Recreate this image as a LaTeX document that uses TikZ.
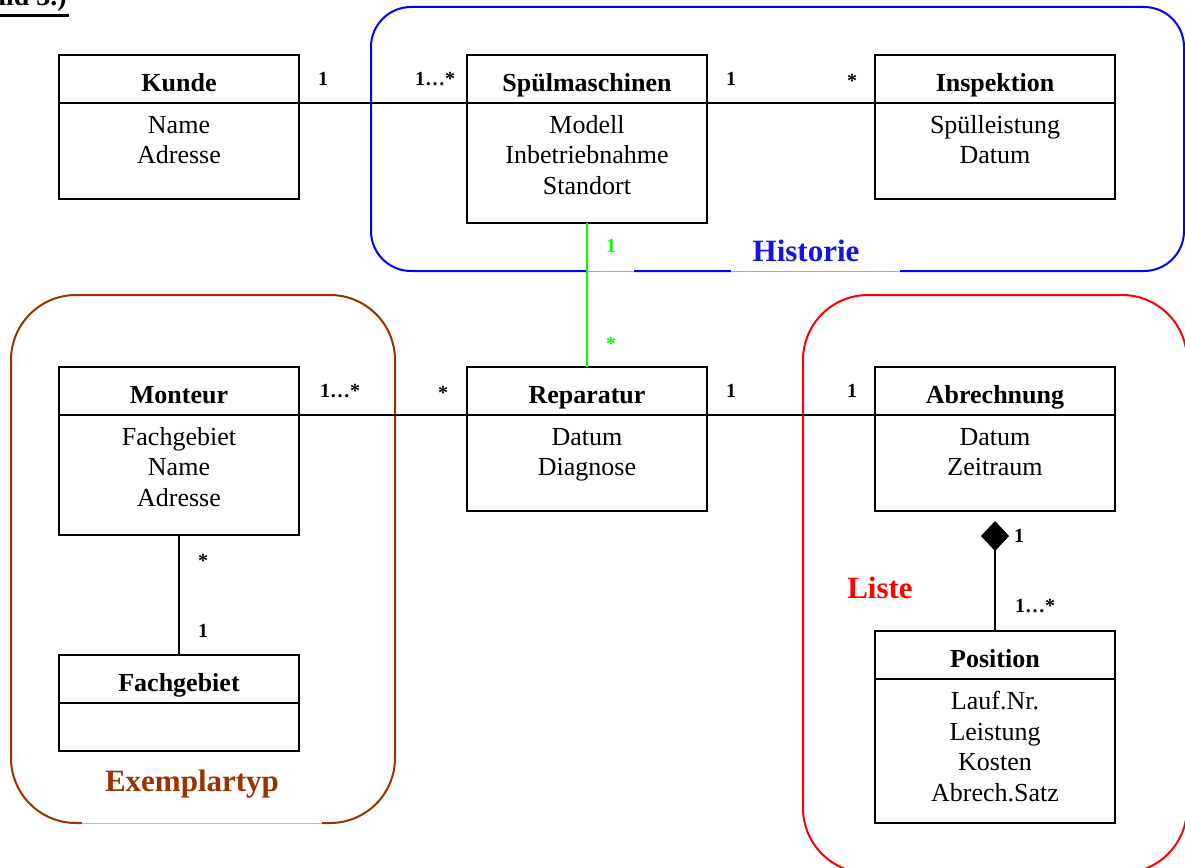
\documentclass[tikz,border=0pt]{standalone}
\usepackage{fontspec}
\setmainfont{Liberation Serif}
\usetikzlibrary{arrows.meta}
\definecolor{brn}{RGB}{153,51,0}
\definecolor{lbrn}{RGB}{225,180,155}
\definecolor{grn}{RGB}{0,255,0}
\definecolor{blu}{RGB}{0,0,255}
\definecolor{lblu}{RGB}{165,165,255}
\definecolor{ttl}{RGB}{20,20,230}
\newcommand\umlcls[6]{%
  \node[clsbox, minimum height=#4pt] (#1) at (#2,#3) {};
  \draw[line width=2pt] ([yshift=-47.5pt]#1.north west) -- ([yshift=-47.5pt]#1.north east);
  \node[clstitle] (#1-t) at ([yshift=-36pt]#1.north) {#5};
  \node[clsattr] (#1-a) at ([yshift=-60pt]#1.north) {#6};
}
\begin{document}
\begin{tikzpicture}[x=1pt,y=-1pt,
  clsbox/.style={draw, line width=2pt, minimum width=240pt, anchor=north west, inner sep=0pt, outer sep=0pt},
  clstitle/.style={font=\fontsize{26}{30}\selectfont\bfseries, anchor=base, inner sep=0pt},
  clsattr/.style={font=\fontsize{26}{30.5}\selectfont, align=center, anchor=north, inner sep=0pt},
  mult/.style={font=\fontsize{20}{24}\selectfont\bfseries, anchor=base, inner sep=0pt},
  assoc/.style={line width=2pt},
  grpframe/.style={line width=2pt, rounded corners=#1},
  grplabel/.style={font=\fontsize{31}{36}\selectfont\bfseries, anchor=base, inner sep=0pt}]
\useasboundingbox (0,0) rectangle (1185,867);
\clip (0,0) rectangle (1185,867);
\fill[white] (0,0) rectangle (1185,867);

% top-left cut-off heading
\node[font=\fontsize{28}{32}\selectfont\bfseries, anchor=base east, inner sep=0pt] (hdr) at (67,6) {Bild 3.)};
\fill (0,14) rectangle (69,17.5);

% group frames
\draw[blu, grpframe=40pt] (371,7) rectangle (1184,271);
\draw[white, line width=3.5pt] (588,271) -- (634,271) (731,271) -- (900,271);
\draw[lblu, line width=1pt] (588,271) -- (634,271) (731,271) -- (900,271);
\node[grplabel, text=ttl] (hist) at (806,261) {Historie};

\draw[brn, grpframe=65pt] (11,295) rectangle (395,823);
\draw[white, line width=3.5pt] (82,823) -- (322,823);
\draw[lbrn, line width=1pt] (82,823) -- (322,823);
\node[grplabel, text=brn] (exem) at (192,791) {Exemplartyp};

\draw[red, grpframe=65pt] (803,295) rectangle (1187,873);
\node[grplabel, text=red] (liste) at (880,598) {Liste};

% classes
\umlcls{kunde}{59}{55}{144}{Kunde}{\vphantom{l}Name\\Adresse}
\umlcls{spuel}{467}{55}{168}{Spülmaschinen}{\vphantom{l}Modell\\Inbetriebnahme\\Standort}
\umlcls{insp}{875}{55}{144}{Inspektion}{\vphantom{l}Spülleistung\\Datum}
\umlcls{mont}{59}{367}{168}{Monteur}{\vphantom{l}Fachgebiet\\Name\\Adresse}
\umlcls{rep}{467}{367}{144}{Reparatur}{\vphantom{l}Datum\\Diagnose}
\umlcls{abr}{875}{367}{144}{Abrechnung}{\vphantom{l}Datum\\Zeitraum}
\umlcls{fach}{59}{655}{96}{Fachgebiet}{}
\umlcls{pos}{875}{631}{192}{Position}{\vphantom{l}Lauf.Nr.\\Leistung\\Kosten\\Abrech.Satz}

% associations
\draw[assoc] ([yshift=-47.5pt]kunde.north east) -- ([yshift=-47.5pt]spuel.north west);
\draw[assoc] ([yshift=-47.5pt]spuel.north east) -- ([yshift=-47.5pt]insp.north west);
\draw[assoc] ([yshift=-47.5pt]mont.north east) -- ([yshift=-47.5pt]rep.north west);
\draw[assoc] ([yshift=-47.5pt]rep.north east) -- ([yshift=-47.5pt]abr.north west);
\draw[assoc] (mont.south) -- (fach.north);
\draw[assoc, grn] (spuel.south) -- (rep.north);
\coordinate (dtip) at (995,521);
\draw[assoc, {Diamond[length=30pt,width=28pt]}-] (dtip) -- (pos.north);

% multiplicities
\node[mult] (m1) at (323,85) {1};
\node[mult] (m2) at (435,85) {1…*};
\node[mult] (m3) at (731,85) {1};
\node[mult] (m4) at (852,87) {*};
\node[mult, text=grn] (m5) at (611,252) {1};
\node[mult, text=grn] (m6) at (611,350) {*};
\node[mult] (m7) at (340,397) {1…*};
\node[mult] (m8) at (443,399) {*};
\node[mult] (m9) at (731,397) {1};
\node[mult] (m10) at (852,397) {1};
\node[mult] (m11) at (203,567) {*};
\node[mult] (m12) at (203,637) {1};
\node[mult] (m13) at (1019,542) {1};
\node[mult] (m14) at (1035,612) {1…*};
\end{tikzpicture}
\end{document}
